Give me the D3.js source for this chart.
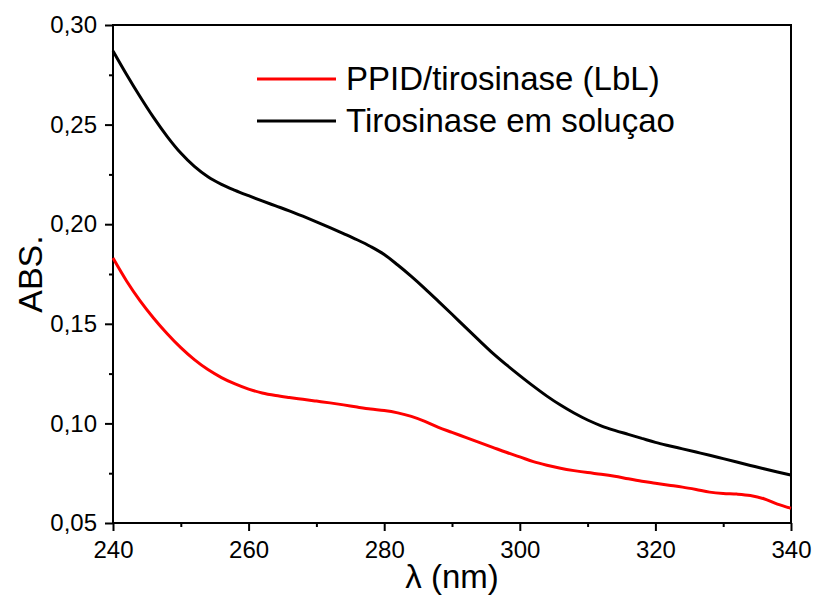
<!DOCTYPE html>
<html>
<head>
<meta charset="utf-8">
<script src="https://cdn.jsdelivr.net/npm/d3@7"></script>
<style>
  body { margin: 0; background: #fff; }
  svg { display: block; font-family: "Liberation Sans", Arial, sans-serif; }
</style>
</head>
<body>
<svg id="chart"></svg>
<script>
// wavelength grid (nm)
const wavelengths = [
  240, 242, 244, 246, 248, 250, 252, 254, 256, 258,
  260, 262, 264, 266, 268, 270, 272, 274, 276, 278,
  280, 282, 284, 286, 288, 290, 292, 294, 296, 298,
  300, 302, 304, 306, 308, 310, 312, 314, 316, 318,
  320, 322, 324, 326, 328, 330, 332, 334, 336, 338, 340,
];

// PPID/tirosinase (LbL)
const lblValues = [
  0.1830, 0.1715, 0.1615, 0.1528, 0.1450, 0.1380, 0.1320, 0.1270, 0.1230, 0.1198,
  0.1172, 0.1153, 0.1140, 0.1130, 0.1121, 0.1112, 0.1103, 0.1093, 0.1082, 0.1072,
  0.1065, 0.1053, 0.1035, 0.1010, 0.0980, 0.0955, 0.0930, 0.0905, 0.0880, 0.0855,
  0.0832, 0.0808, 0.0790, 0.0775, 0.0763, 0.0753, 0.0745, 0.0735, 0.0722, 0.0710,
  0.0700, 0.0690, 0.0680, 0.0668, 0.0655, 0.0648, 0.0645, 0.0638, 0.0622, 0.0595, 0.0574,
];

// Tirosinase em soluçao
const solValues = [
  0.2870, 0.2752, 0.2640, 0.2535, 0.2440, 0.2357, 0.2290, 0.2238, 0.2200, 0.2170,
  0.2143, 0.2117, 0.2092, 0.2067, 0.2040, 0.2012, 0.1983, 0.1953, 0.1922, 0.1888,
  0.1848, 0.1795, 0.1738, 0.1677, 0.1613, 0.1548, 0.1482, 0.1417, 0.1353, 0.1295,
  0.1240, 0.1187, 0.1137, 0.1092, 0.1052, 0.1017, 0.0988, 0.0965, 0.0945, 0.0925,
  0.0905, 0.0888, 0.0872, 0.0856, 0.0840, 0.0823, 0.0806, 0.0789, 0.0772, 0.0756, 0.0741,
];

const seriesNames = ["PPID/tirosinase (LbL)", "Tirosinase em soluçao"];
const seriesColors = ["#ff0000", "#000000"];

const xTicks = [240, 260, 280, 300, 320, 340];
const xMinor = [250, 270, 290, 310, 330];
const yTicks = [0.05, 0.10, 0.15, 0.20, 0.25, 0.30];
const yMinor = [0.075, 0.125, 0.175, 0.225, 0.275];

const width = 813, height = 602;
const margin = { top: 25, right: 22, bottom: 79, left: 113 };
const innerW = width - margin.left - margin.right;
const innerH = height - margin.top - margin.bottom;

const svg = d3.select("#chart").attr("width", width).attr("height", height);
const chart = svg.append("g")
  .attr("transform", `translate(${margin.left}, ${margin.top})`);

const x = d3.scaleLinear().domain([240, 340]).range([0, innerW]);
const y = d3.scaleLinear().domain([0.05, 0.30]).range([innerH, 0]);

const comma = (d) => d3.format(".2f")(d).replace(".", ",");

// minor ticks
chart.append("g")
  .attr("transform", `translate(0, ${innerH})`)
  .call(d3.axisBottom(x).tickValues(xMinor).tickSize(4).tickFormat(""));
chart.append("g")
  .call(d3.axisLeft(y).tickValues(yMinor).tickSize(4).tickFormat(""));

// major ticks
chart.append("g")
  .attr("transform", `translate(0, ${innerH})`)
  .call(d3.axisBottom(x).tickValues(xTicks).tickSize(8).tickPadding(10)
    .tickFormat(d3.format("d")));
chart.append("g")
  .call(d3.axisLeft(y).tickValues(yTicks).tickSize(8).tickPadding(8)
    .tickFormat(comma));

chart.selectAll(".domain").remove();
chart.selectAll(".tick line").attr("stroke", "#000").attr("stroke-width", 2);
chart.selectAll(".tick text")
  .attr("fill", "#000")
  .style("font-size", "24px")
  .style("font-family", "'Liberation Sans', Arial, sans-serif");

// frame
chart.append("rect")
  .attr("x", 0).attr("y", 0)
  .attr("width", innerW).attr("height", innerH)
  .attr("fill", "none").attr("stroke", "#000").attr("stroke-width", 2);

// curves
const line = d3.line()
  .x((d) => x(d[0]))
  .y((d) => y(d[1]))
  .curve(d3.curveMonotoneX);

[lblValues, solValues].forEach((vals, i) => {
  chart.append("path")
    .datum(wavelengths.map((w, j) => [w, vals[j]]))
    .attr("fill", "none")
    .attr("stroke", seriesColors[i])
    .attr("stroke-width", 3)
    .attr("stroke-linejoin", "round")
    .attr("d", line);
});

// legend
const legend = svg.append("g");
seriesNames.forEach((name, i) => {
  const yy = 79 + i * 42;
  legend.append("line")
    .attr("x1", 257).attr("x2", 336)
    .attr("y1", yy).attr("y2", yy)
    .attr("stroke", seriesColors[i]).attr("stroke-width", 3);
  legend.append("text")
    .attr("x", 346).attr("y", yy + 11)
    .style("font-size", "33px")
    .attr("fill", "#000")
    .text(name);
});

// axis titles
svg.append("text")
  .attr("x", margin.left + innerW / 2)
  .attr("y", 588)
  .attr("text-anchor", "middle")
  .style("font-size", "33px")
  .text("λ (nm)");

svg.append("text")
  .attr("transform", `translate(42, ${margin.top + innerH / 2}) rotate(-90)`)
  .attr("text-anchor", "middle")
  .style("font-size", "34px")
  .text("ABS.");
</script>
</body>
</html>
